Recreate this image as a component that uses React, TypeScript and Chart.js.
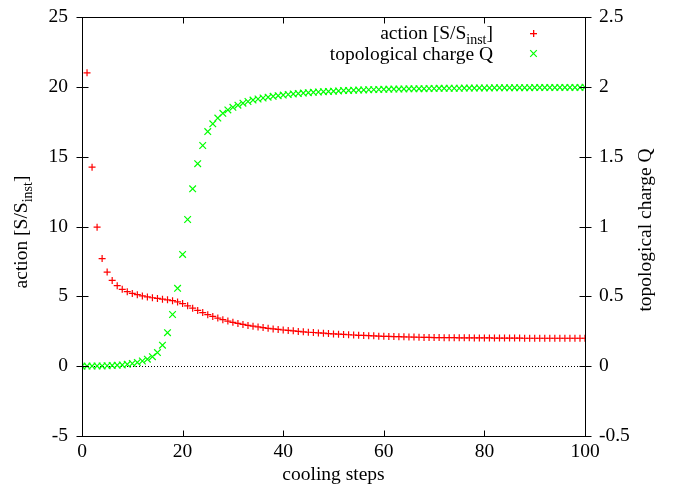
import React, { useEffect, useRef } from "react";
import { Chart, registerables } from "chart.js";

Chart.register(...registerables);

const steps = [
  0, 1, 2, 3, 4, 5, 6, 7, 8, 9,
  10, 11, 12, 13, 14, 15, 16, 17, 18, 19,
  20, 21, 22, 23, 24, 25, 26, 27, 28, 29,
  30, 31, 32, 33, 34, 35, 36, 37, 38, 39,
  40, 41, 42, 43, 44, 45, 46, 47, 48, 49,
  50, 51, 52, 53, 54, 55, 56, 57, 58, 59,
  60, 61, 62, 63, 64, 65, 66, 67, 68, 69,
  70, 71, 72, 73, 74, 75, 76, 77, 78, 79,
  80, 81, 82, 83, 84, 85, 86, 87, 88, 89,
  90, 91, 92, 93, 94, 95, 96, 97, 98, 99, 100,
];

const action: (number | null)[] = [
  null, 21.0, 14.25, 9.95, 7.7, 6.74, 6.14, 5.76, 5.5, 5.33,
  5.21, 5.12, 5.03, 4.96, 4.9, 4.85, 4.8, 4.75, 4.69, 4.6,
  4.48, 4.32, 4.15, 3.99, 3.84, 3.69, 3.56, 3.44, 3.33, 3.23,
  3.14, 3.06, 2.99, 2.92, 2.86, 2.81, 2.76, 2.71, 2.67, 2.63,
  2.59, 2.56, 2.53, 2.49, 2.46, 2.43, 2.41, 2.38, 2.36, 2.33,
  2.31, 2.29, 2.27, 2.25, 2.23, 2.21, 2.2, 2.18, 2.17, 2.15,
  2.14, 2.13, 2.12, 2.11, 2.1, 2.09, 2.08, 2.07, 2.06, 2.06,
  2.05, 2.05, 2.04, 2.04, 2.04, 2.03, 2.03, 2.03, 2.02, 2.02,
  2.02, 2.02, 2.01, 2.01, 2.01, 2.01, 2.01, 2.01, 2.0, 2.0,
  2.0, 2.0, 2.0, 2.0, 2.0, 2.0, 2.0, 2.0, 2.0, 2.0, 2.0,
];

const charge: number[] = [
  0.0, 0.001, 0.001, 0.002, 0.002, 0.003, 0.005, 0.007, 0.009, 0.013,
  0.019, 0.027, 0.037, 0.05, 0.068, 0.097, 0.15, 0.24, 0.37, 0.557,
  0.8, 1.05, 1.27, 1.45, 1.58, 1.68, 1.735, 1.776, 1.81, 1.835,
  1.853, 1.869, 1.883, 1.895, 1.905, 1.913, 1.92, 1.926, 1.932, 1.937,
  1.941, 1.945, 1.949, 1.952, 1.955, 1.958, 1.961, 1.963, 1.965, 1.967,
  1.969, 1.971, 1.973, 1.974, 1.976, 1.977, 1.978, 1.979, 1.98, 1.981,
  1.982, 1.983, 1.984, 1.984, 1.985, 1.986, 1.986, 1.987, 1.987, 1.988,
  1.988, 1.989, 1.989, 1.99, 1.99, 1.99, 1.991, 1.991, 1.991, 1.992,
  1.992, 1.992, 1.993, 1.993, 1.993, 1.993, 1.994, 1.994, 1.994, 1.994,
  1.995, 1.995, 1.995, 1.995, 1.995, 1.996, 1.996, 1.996, 1.996, 1.996, 1.997,
];

const xTitle = "cooling steps";
const yTitleMain = "action [S/S";
const yTitleSub = "inst";
const yTitleEnd = "]";
const y2Title = "topological charge Q";
const legendCharge = "topological charge Q";

const FONT = "'Liberation Serif', 'Times New Roman', serif";
const FS = 19.5;
const SUB = 14;

function drawRich(ctx: CanvasRenderingContext2D, x: number, y: number) {
  ctx.font = `${FS}px ${FONT}`;
  ctx.fillText(yTitleMain, x, y);
  let cx = x + ctx.measureText(yTitleMain).width;
  ctx.font = `${SUB}px ${FONT}`;
  ctx.fillText(yTitleSub, cx, y + 4.5);
  cx += ctx.measureText(yTitleSub).width;
  ctx.font = `${FS}px ${FONT}`;
  ctx.fillText(yTitleEnd, cx, y);
}

function richWidth(ctx: CanvasRenderingContext2D) {
  ctx.font = `${FS}px ${FONT}`;
  let w = ctx.measureText(yTitleMain).width + ctx.measureText(yTitleEnd).width;
  ctx.font = `${SUB}px ${FONT}`;
  w += ctx.measureText(yTitleSub).width;
  return w;
}

const decorPlugin = {
  id: "decor",
  beforeDatasetsDraw(chart: any) {
    const { ctx, chartArea: a, scales } = chart;
    ctx.save();
    const y0 = Math.round(scales.y.getPixelForValue(0)) + 0.5;
    ctx.strokeStyle = "#000";
    ctx.lineWidth = 1;
    ctx.setLineDash([1, 2]);
    ctx.beginPath();
    ctx.moveTo(a.left, y0);
    ctx.lineTo(a.right, y0);
    ctx.stroke();
    ctx.restore();
  },
  afterDatasetsDraw(chart: any) {
    const { ctx, chartArea: a, scales } = chart;
    ctx.save();
    ctx.strokeStyle = "#000";
    ctx.lineWidth = 1;
    ctx.setLineDash([]);
    const L = Math.round(a.left) + 0.5, R = Math.round(a.right) + 0.5;
    const T = Math.round(a.top) + 0.5, B = Math.round(a.bottom) + 0.5;
    ctx.beginPath();
    ctx.rect(L, T, R - L, B - T);
    ctx.stroke();
    ctx.beginPath();
    scales.x.ticks.forEach((t: any) => {
      const px = Math.round(scales.x.getPixelForValue(t.value)) + 0.5;
      ctx.moveTo(px, B);
      ctx.lineTo(px, B - 6);
      ctx.moveTo(px, T);
      ctx.lineTo(px, T + 6);
    });
    scales.y.ticks.forEach((t: any) => {
      const py = Math.round(scales.y.getPixelForValue(t.value)) + 0.5;
      ctx.moveTo(L - 6, py);
      ctx.lineTo(L + 6, py);
    });
    scales.y2.ticks.forEach((t: any) => {
      const py = Math.round(scales.y2.getPixelForValue(t.value)) + 0.5;
      ctx.moveTo(R - 6, py);
      ctx.lineTo(R + 6, py);
    });
    ctx.stroke();

    ctx.fillStyle = "#000";
    ctx.textBaseline = "alphabetic";
    ctx.save();
    ctx.translate(27, 232);
    ctx.rotate(-Math.PI / 2);
    ctx.textAlign = "left";
    const w = richWidth(ctx);
    drawRich(ctx, -w / 2, 0);
    ctx.restore();

    ctx.save();
    ctx.translate(651, 230);
    ctx.rotate(-Math.PI / 2);
    ctx.textAlign = "center";
    ctx.font = `${FS}px ${FONT}`;
    ctx.fillText(y2Title, 0, 0);
    ctx.restore();

    ctx.textAlign = "left";
    const lw = richWidth(ctx);
    drawRich(ctx, 493 - lw, 39);
    ctx.font = `${FS}px ${FONT}`;
    ctx.textAlign = "right";
    ctx.fillText(legendCharge, 493, 60);

    // legend markers
    ctx.fillStyle = "#ff0000";
    ctx.fillRect(530, 33, 7, 1.3);
    ctx.fillRect(533, 30, 1.3, 7);
    ctx.lineWidth = 1.2;
    ctx.strokeStyle = "#00ff00";
    ctx.beginPath();
    const d = 3.3;
    ctx.moveTo(533.5 - d, 53.5 - d);
    ctx.lineTo(533.5 + d, 53.5 + d);
    ctx.moveTo(533.5 - d, 53.5 + d);
    ctx.lineTo(533.5 + d, 53.5 - d);
    ctx.stroke();
    ctx.restore();
  },
};

export default function App() {
  const ref = useRef<HTMLCanvasElement>(null);
  useEffect(() => {
    document.body.style.margin = "0";
    const canvas = ref.current!;
    const tickFont = { family: FONT, size: FS };
    const fmt = (v: any) => String(Math.round(Number(v) * 100) / 100);
    const noPad = (s: any) => {
      s.paddingTop = 0;
      s.paddingBottom = 0;
      s.paddingLeft = 0;
      s.paddingRight = 0;
    };
    const chart = new Chart(canvas, {
      type: "scatter",
      data: {
        datasets: [
          {
            label: "action",
            data: steps.map((s, i) => ({ x: s, y: action[i] as any })),
            yAxisID: "y",
            pointStyle: "cross",
            radius: 3.5,
            borderColor: "#ff0000",
            backgroundColor: "#ff0000",
            borderWidth: 1.2,
            showLine: false,
          },
          {
            label: "charge",
            data: steps.map((s, i) => ({ x: s, y: charge[i] })),
            yAxisID: "y2",
            pointStyle: "crossRot",
            radius: 4.7,
            borderColor: "#00ff00",
            backgroundColor: "#00ff00",
            borderWidth: 1.2,
            showLine: false,
          },
        ],
      },
      options: {
        responsive: false,
        animation: false,
        devicePixelRatio: 1,
        layout: { padding: { top: 17, left: 0, right: 0, bottom: 0 } },
        plugins: { legend: { display: false }, tooltip: { enabled: false } },
        scales: {
          x: {
            type: "linear",
            min: 0,
            max: 100,
            ticks: { stepSize: 20, font: tickFont, color: "#000", padding: 4, maxRotation: 0, callback: fmt },
            grid: { display: false, drawTicks: false },
            border: { display: false },
            title: { display: true, text: xTitle, font: tickFont, color: "#000", padding: { top: 0, bottom: 2 } },
            afterFit: (s: any) => { s.height = 53; noPad(s); },
          },
          y: {
            position: "left",
            min: -5,
            max: 25,
            ticks: { stepSize: 5, font: tickFont, color: "#000", padding: 14, callback: fmt },
            grid: { display: false, drawTicks: false },
            border: { display: false },
            afterFit: (s: any) => { s.width = 82; noPad(s); },
          },
          y2: {
            position: "right",
            min: -0.5,
            max: 2.5,
            ticks: { stepSize: 0.5, font: tickFont, color: "#000", padding: 14, callback: fmt },
            grid: { display: false, drawTicks: false },
            border: { display: false },
            afterFit: (s: any) => { s.width = 93; noPad(s); },
          },
        },
      },
      plugins: [decorPlugin],
    });
    return () => chart.destroy();
  }, []);
  return (
    <div style={{ position: "absolute", left: 0, top: 0, width: 678, height: 489 }}>
      <canvas ref={ref} width={678} height={489} />
    </div>
  );
}
